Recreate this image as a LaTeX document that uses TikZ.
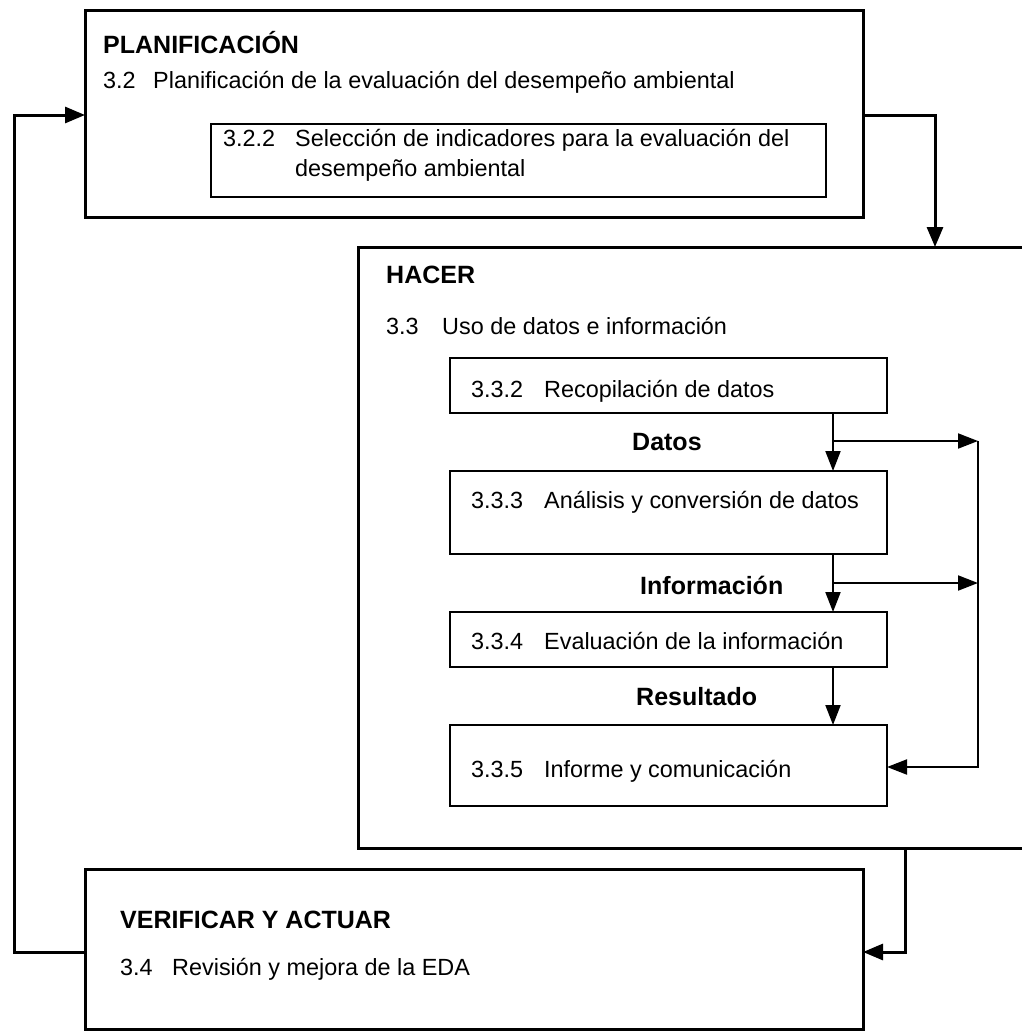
\documentclass[tikz,border=0pt]{standalone}
\usepackage{fontspec}
\setmainfont{Liberation Sans}
\usetikzlibrary{arrows.meta,calc}
\begin{document}
\begin{tikzpicture}[x=1pt,y=-1pt,
  bigbox/.style={draw, line width=3pt, outer sep=0pt, inner sep=0pt, anchor=north west},
  smallbox/.style={draw, line width=2pt, outer sep=0pt, inner sep=0pt, anchor=north west},
  txt/.style={anchor=base west, inner sep=0pt, font=\fontsize{23.4pt}{30pt}\selectfont},
  head/.style={anchor=base west, inner sep=0pt, font=\fontsize{25pt}{30pt}\selectfont\bfseries},
  conn/.style={line width=3pt, -{Triangle[length=20pt,width=16pt]}},
  iconn/.style={line width=2pt, -{Triangle[length=20pt,width=15pt]}}]
\useasboundingbox (0,0) rectangle (1021,1031);

% boxes
\node[bigbox, minimum width=778pt, minimum height=207pt] (plan) at (85,10) {};
\node[smallbox, minimum width=615pt, minimum height=73pt] (b322) at (211,124) {};
\node[bigbox, minimum width=680pt, minimum height=601pt] (hacer) at (358,247) {};
\node[smallbox, minimum width=437pt, minimum height=55pt] (b332) at (450,358) {};
\node[smallbox, minimum width=437pt, minimum height=83pt] (b333) at (450,471) {};
\node[smallbox, minimum width=437pt, minimum height=55pt] (b334) at (450,612) {};
\node[smallbox, minimum width=437pt, minimum height=81pt] (b335) at (450,725) {};
\node[bigbox, minimum width=778pt, minimum height=160pt] (verif) at (85,869) {};

% texts
\node[head] (tplan) at (103,53) {PLANIFICACIÓN};
\node[txt] (n32) at (103,88) {3.2};
\node[txt] (t32) at (153,88) {Planificación de la evaluación del desempeño ambiental};
\node[txt] (n322) at (223,146) {3.2.2};
\node[txt] (t322a) at (295,146) {Selección de indicadores para la evaluación del};
\node[txt] (t322b) at (295,176) {desempeño ambiental};

\node[head] (thacer) at (386,283) {HACER};
\node[txt] (n33) at (386,334) {3.3};
\node[txt] (t33) at (442,334) {Uso de datos e información};
\node[txt] (n332) at (471,397) {3.3.2};
\node[txt] (t332) at (544,397) {Recopilación de datos};
\node[txt] (n333) at (471,508) {3.3.3};
\node[txt] (t333) at (544,508) {Análisis y conversión de datos};
\node[txt] (n334) at (471,649) {3.3.4};
\node[txt] (t334) at (544,649) {Evaluación de la información};
\node[txt] (n335) at (471,777) {3.3.5};
\node[txt] (t335) at (544,777) {Informe y comunicación};

\node[head] (ldatos) at (632,450) {Datos};
\node[head] (linfo) at (640,594) {Información};
\node[head] (lres) at (636,705) {Resultado};

\node[head] (tverif) at (120,928) {VERIFICAR Y ACTUAR};
\node[txt] (n34) at (120,975) {3.4};
\node[txt] (t34) at (172,975) {Revisión y mejora de la EDA};

% outer connectors
\coordinate (lpb) at (14,952);
\coordinate (lpt) at (14,115);
\draw[conn] (verif.west |- lpb) -- (lpb) -- (lpt) -- (plan.west |- lpt);
\coordinate (rpt) at (935,115);
\draw[conn] (plan.east |- rpt) -- (rpt) -- (rpt |- hacer.north);
\coordinate (hb) at (905,952);
\draw[conn] (hb |- hacer.south) -- (hb) -- (verif.east |- hb);

% inner connectors
\coordinate (br1) at (833,441);
\coordinate (br2) at (833,583);
\coordinate (rl1) at (978,441);
\coordinate (rl2) at (978,583);
\coordinate (rl3) at (978,767);
\draw[iconn] (br1 |- b332.south) -- (br1 |- b333.north);
\draw[iconn] (br1 |- b333.south) -- (br1 |- b334.north);
\draw[iconn] (br1 |- b334.south) -- (br1 |- b335.north);
\draw[iconn] (br1) -- (rl1);
\draw[iconn] (br2) -- (rl2);
\draw[iconn] (rl1) -- (rl3) -- (b335.east |- rl3);
\end{tikzpicture}
\end{document}
